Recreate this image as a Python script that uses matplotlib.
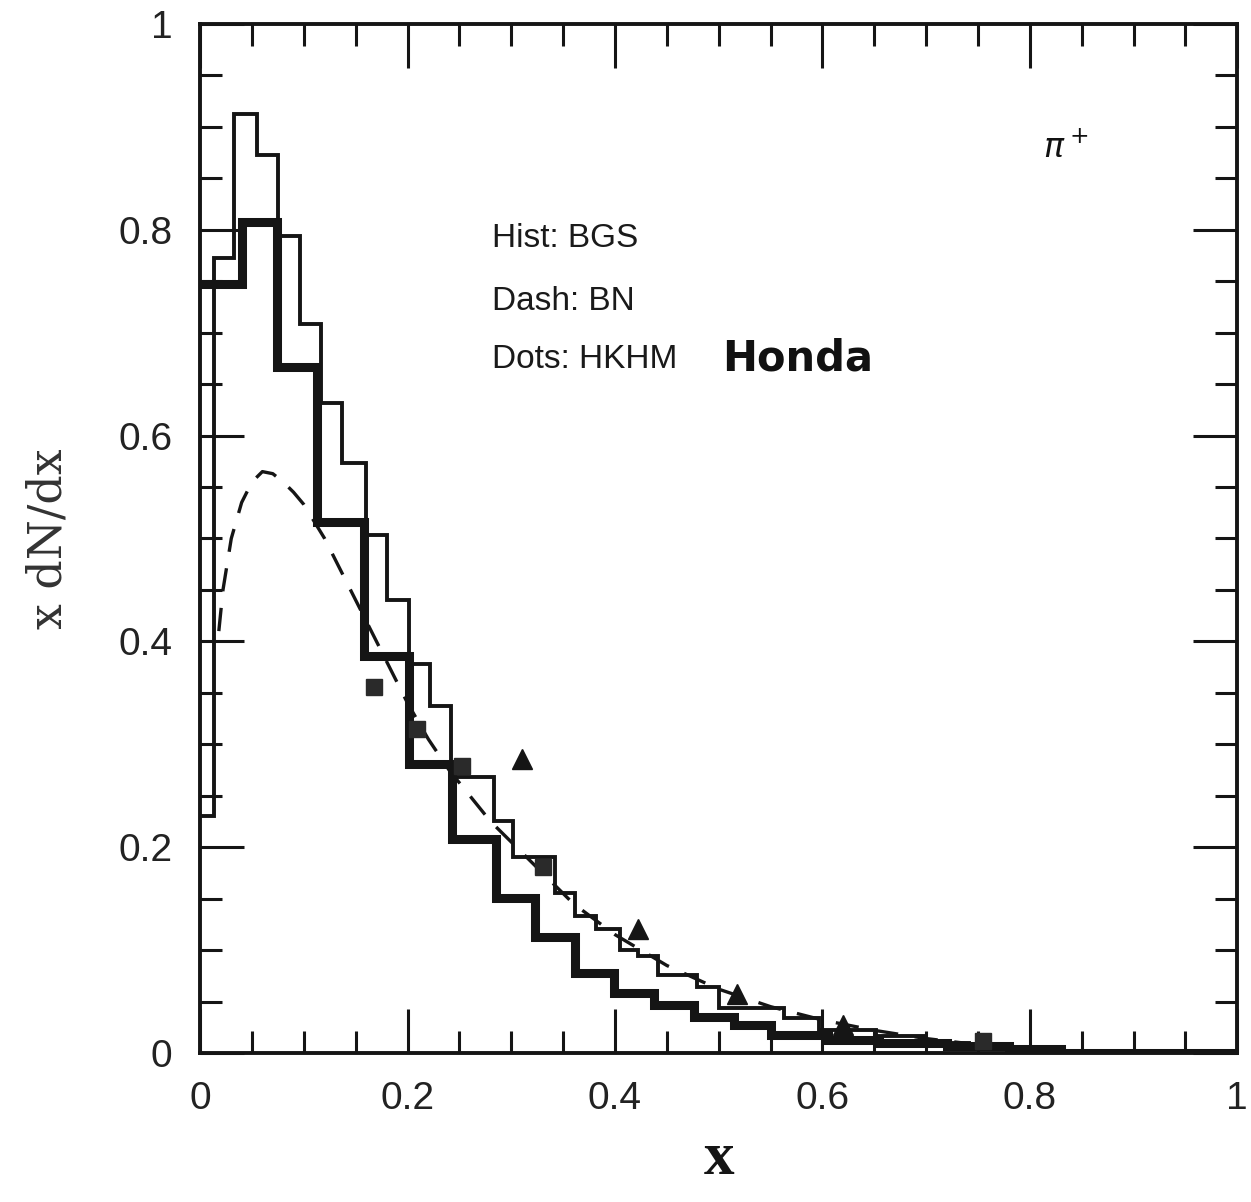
import numpy as np
import matplotlib.pyplot as plt
from matplotlib.ticker import MultipleLocator

# thin histogram (BGS)
thin_edges = [0, 0.013, 0.033, 0.055, 0.075, 0.096, 0.117, 0.137, 0.160, 0.180,
              0.201, 0.222, 0.242, 0.283, 0.302, 0.342, 0.361, 0.382, 0.405, 0.422,
              0.441, 0.479, 0.50, 0.563, 0.597, 0.652, 0.70, 0.741, 0.80, 1.0]
thin_vals = [0.23, 0.773, 0.913, 0.873, 0.794, 0.708, 0.632, 0.573, 0.503, 0.44,
             0.378, 0.337, 0.268, 0.225, 0.19, 0.155, 0.133, 0.12, 0.10, 0.094,
             0.076, 0.064, 0.044, 0.034, 0.022, 0.016, 0.01, 0.005, 0.0]

# thick histogram
thick_edges = [0, 0.04, 0.074, 0.113, 0.158, 0.201, 0.243, 0.285, 0.323, 0.361,
               0.399, 0.438, 0.476, 0.515, 0.55, 0.605, 0.655, 0.72, 0.78, 0.83, 1.0]
thick_vals = [0.747, 0.808, 0.667, 0.516, 0.386, 0.281, 0.208, 0.151, 0.113, 0.078,
              0.058, 0.047, 0.035, 0.027, 0.017, 0.013, 0.01, 0.007, 0.004, 0.0]

# dashed curve (BN)
bn_x = [0.018, 0.022, 0.03, 0.04, 0.05, 0.06, 0.07, 0.08, 0.09, 0.10, 0.12, 0.14,
        0.16, 0.18, 0.20, 0.22, 0.24, 0.26, 0.28, 0.30, 0.33, 0.36, 0.40, 0.45,
        0.50, 0.55, 0.60, 0.65, 0.70, 0.75, 0.80]
bn_y = [0.41, 0.45, 0.50, 0.535, 0.555, 0.565, 0.563, 0.555, 0.545, 0.533, 0.50, 0.46,
        0.42, 0.38, 0.34, 0.305, 0.275, 0.25, 0.225, 0.205, 0.175, 0.145, 0.115, 0.085,
        0.062, 0.045, 0.032, 0.022, 0.014, 0.008, 0.004]

# HKHM points
sq_x = [0.168, 0.209, 0.252, 0.331, 0.755]
sq_y = [0.356, 0.315, 0.279, 0.181, 0.012]
tri_x = [0.31, 0.422, 0.518, 0.62]
tri_y = [0.286, 0.12, 0.057, 0.027]

tick_pos = [0, 0.2, 0.4, 0.6, 0.8, 1.0]
tick_lab = ['0', '0.2', '0.4', '0.6', '0.8', '1']

fig = plt.figure(figsize=(12.51, 12.02), dpi=100)
ax = fig.add_axes([0.16, 0.124, 0.829, 0.856])

ax.stairs(thin_vals, thin_edges, color='#151515', lw=2.8, baseline=None)
ax.stairs(thick_vals, thick_edges, color='#151515', lw=6.5, baseline=None)
ax.plot(bn_x, bn_y, color='#151515', lw=2.4, dashes=(7, 5))
ax.plot(sq_x, sq_y, 's', color='#2a2a2a', ms=12, ls='none')
ax.plot(tri_x, tri_y, '^', color='#151515', ms=15, ls='none')

ax.set_xlim(0, 1)
ax.set_ylim(0, 1)
ax.set_xticks(tick_pos, tick_lab)
ax.set_yticks(tick_pos, tick_lab)
ax.xaxis.set_minor_locator(MultipleLocator(0.05))
ax.yaxis.set_minor_locator(MultipleLocator(0.05))
ax.tick_params(which='both', direction='in', top=True, right=True,
               width=2.2, color='#151515')
ax.tick_params(which='major', length=32, pad=20, labelsize=28,
               labelfontfamily='Liberation Sans', labelcolor='#222222')
ax.tick_params(which='minor', length=16)
for s in ax.spines.values():
    s.set_linewidth(2.8)
    s.set_color('#151515')

ax.set_ylabel('x dN/dx', fontsize=33, family='DejaVu Serif', color='#333333',
              labelpad=34)
ax.set_xlabel('x', fontsize=44, family='Liberation Serif', fontweight='bold',
              color='#151515', labelpad=10)

ax.text(0.281, 0.783, 'Hist: BGS', fontsize=24, family='Liberation Sans', color='#1a1a1a')
ax.text(0.281, 0.722, 'Dash: BN', fontsize=24, family='Liberation Sans', color='#1a1a1a')
ax.text(0.281, 0.666, 'Dots: HKHM', fontsize=24, family='Liberation Sans', color='#1a1a1a')
ax.text(0.503, 0.663, 'Honda', fontsize=30, family='DejaVu Sans', fontweight='bold',
        color='#111111')
ax.text(0.813, 0.87, r'$\pi^+$', fontsize=24, color='#111111')

fig.savefig('out.png', dpi=100, facecolor='white')
